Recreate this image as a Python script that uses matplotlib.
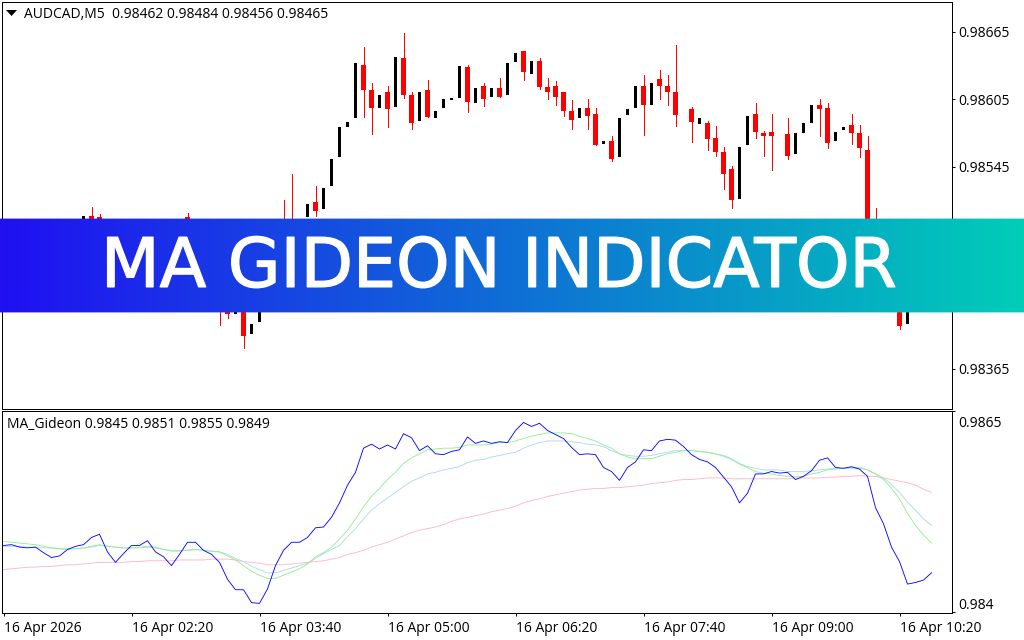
import numpy as np
import matplotlib
matplotlib.use("Agg")
import matplotlib.pyplot as plt
import matplotlib.patheffects as pe
from matplotlib.colors import LinearSegmentedColormap
from matplotlib.patches import Polygon

W, H = 1024, 640
PX = 72 / 100  # points per pixel at dpi 100

# ---------- data ----------
symbol_title = "AUDCAD,M5  0.98462 0.98484 0.98456 0.98465"
indicator_title = "MA_Gideon 0.9845 0.9851 0.9855 0.9849"
banner_title = "MA GIDEON INDICATOR"
price_ticks = [0.98665, 0.98605, 0.98545, 0.98485, 0.98425, 0.98365]
price_labels = ["0.98665", "0.98605", "0.98545", "0.98485", "0.98425", "0.98365"]
ind_ticks = [0.9865, 0.984]
ind_labels = ["0.9865", "0.984"]
time_ticks = [0, 16, 32, 48, 64, 80, 96, 112]
time_labels = ["16 Apr 2026", "16 Apr 02:20", "16 Apr 03:40", "16 Apr 05:00",
               "16 Apr 06:20", "16 Apr 07:40", "16 Apr 09:00", "16 Apr 10:20"]

# candles, prices as 0.98xxx (xxx listed). Bars inside the banner band are estimates.
candle_bar = [10, 11, 12, 23, 27, 28, 29, 30, 31, 32, 35, 36, 38, 39, 40, 41, 42, 43,
              44, 45, 46, 47, 48, 49, 50, 51, 52, 53, 54, 55, 56, 57, 58, 59, 60, 61,
              62, 63, 64, 65, 66, 67, 68, 69, 70, 71, 72, 73, 74, 75, 76, 77, 78, 79,
              80, 81, 82, 83, 84, 85, 86, 87, 88, 89, 90, 91, 92, 93, 94, 95, 96, 97,
              98, 99, 100, 101, 102, 103, 104, 105, 106, 107, 108, 109, 110, 111, 112,
              113, 114, 115, 116]
opens = [490, 501, 500, 500, 470, 440, 414, 440, 396, 407, 490, 495, 500, 514, 507, 528, 554, 580,
         588, 636, 613, 597, 612, 598, 642, 609, 586, 613, 588, 597, 604, 606, 634, 602, 617, 607,
         615, 609, 638, 648, 628, 639, 616, 617, 612, 595, 588, 597, 592, 565, 568, 554, 591, 597,
         617, 600, 623, 617, 612, 592, 596, 583, 584, 571, 558, 543, 516, 564, 592, 575, 576, 571,
         574, 556, 575, 584, 600, 597, 568, 578, 582, 575, 560, 480, 470, 455, 430,
         405, 430, 440, 462]
highs = [501, 509, 503, 504, 490, 445, 430, 445, 405, 430, 515, 539, 512, 528, 526, 552, 580, 585,
         637, 652, 620, 609, 617, 643, 664, 612, 612, 622, 595, 605, 606, 635, 636, 615, 620, 615,
         624, 637, 646, 648, 639, 642, 624, 621, 612, 604, 597, 605, 597, 568, 572, 588, 596, 617,
         627, 620, 631, 627, 653, 610, 598, 588, 586, 581, 563, 546, 563, 590, 602, 577, 592, 583,
         588, 575, 584, 600, 605, 602, 576, 580, 592, 582, 572, 508, 480, 465, 440,
         430, 445, 462, 484]
lows = [490, 485, 488, 490, 404, 410, 414, 384, 396, 407, 480, 470, 500, 501, 507, 528, 554, 580,
        588, 589, 574, 597, 580, 598, 606, 579, 586, 589, 588, 597, 604, 606, 594, 602, 599, 607,
        607, 609, 638, 622, 628, 614, 605, 600, 590, 579, 588, 579, 564, 565, 550, 554, 591, 597,
        573, 600, 605, 600, 581, 580, 567, 583, 560, 555, 525, 508, 516, 564, 571, 555, 542, 547,
        552, 556, 575, 584, 572, 562, 568, 578, 565, 554, 470, 465, 450, 430, 401,
        405, 430, 440, 456]
closes = [501, 490, 492, 495, 450, 414, 430, 394, 405, 430, 485, 480, 512, 506, 526, 552, 580, 585,
          637, 613, 597, 609, 596, 643, 609, 584, 612, 589, 595, 605, 606, 635, 603, 615, 605, 615,
          607, 637, 646, 629, 639, 616, 612, 607, 595, 587, 597, 590, 564, 568, 552, 588, 596, 617,
          600, 620, 617, 612, 591, 592, 585, 588, 570, 558, 539, 515, 563, 590, 576, 572, 572, 571,
          555, 575, 584, 600, 596, 566, 576, 580, 575, 562, 475, 470, 455, 440, 403,
          430, 440, 462, 465]

# indicator buffers, 117 bars, prices as 0.98xxx (xxx listed)
ma_blue = [483, 484, 481, 480, 481, 474, 468, 470, 478, 482, 484, 493, 497, 475, 462, 473, 483, 483,
           489, 475, 469, 458, 472, 487, 487, 477, 472, 462, 441, 428, 428, 412, 411, 429, 458, 477,
           487, 487, 493, 505, 506, 518, 536, 558, 574, 604, 609, 603, 608, 603, 622, 617, 601, 607,
           597, 596, 600, 602, 618, 610, 613, 610, 612, 611, 626, 636, 631, 635, 626, 621, 616, 605,
           596, 597, 596, 580, 575, 564, 580, 587, 602, 601, 613, 615, 614, 606, 596, 590, 587, 580,
           568, 556, 536, 548, 572, 572, 575, 573, 574, 565, 569, 576, 589, 592, 580, 579, 581, 578,
           569, 530, 510, 481, 463, 435, 437, 440, 449]
ma_green = [488, 487, 486, 485, 484, 482, 480, 479, 478, 479, 480, 482, 484, 482, 481, 480, 480, 481,
            482, 481, 478, 476, 476, 477, 478, 477, 476, 475, 470, 465, 458, 451, 446, 442, 442, 446,
            450, 454, 460, 469, 474, 481, 491, 502, 516, 531, 544, 554, 565, 574, 585, 592, 597, 602,
            603, 604, 604, 605, 608, 608, 608, 609, 611, 611, 613, 616, 619, 621, 623, 623, 623, 622,
            619, 616, 613, 608, 604, 597, 593, 591, 591, 591, 594, 597, 599, 601, 601, 600, 599, 597,
            594, 590, 584, 580, 575, 573, 572, 570, 569, 569, 569, 572, 574, 577, 578, 579, 580, 580,
            577, 572, 565, 554, 541, 523, 508, 496, 486]
ma_lightblue = [482, 482, 482, 481, 481, 480, 480, 479, 479, 479, 480, 481, 483, 482, 481, 480, 480, 480,
                481, 480, 478, 477, 477, 477, 478, 477, 476, 475, 472, 467, 463, 457, 453, 449, 449, 452,
                455, 458, 461, 467, 473, 478, 483, 494, 504, 516, 527, 535, 542, 549, 556, 563, 567, 572,
                574, 577, 579, 581, 586, 589, 590, 593, 595, 597, 599, 604, 608, 611, 613, 613, 613, 612,
                611, 609, 608, 606, 601, 597, 595, 594, 594, 595, 597, 599, 601, 601, 601, 600, 599, 597,
                595, 591, 585, 581, 579, 577, 577, 577, 575, 575, 575, 576, 577, 578, 579, 579, 579, 579,
                577, 572, 567, 559, 549, 537, 527, 516, 508]
ma_pink = [453, 454, 455, 456, 456, 457, 457, 458, 459, 459, 460, 461, 462, 462, 462, 462, 463, 463,
           464, 464, 464, 464, 465, 465, 465, 465, 466, 466, 466, 465, 463, 462, 461, 459, 459, 459,
           460, 461, 462, 463, 464, 466, 468, 472, 474, 477, 481, 484, 487, 491, 495, 499, 502, 504,
           506, 509, 513, 516, 518, 520, 522, 525, 527, 529, 532, 536, 539, 541, 544, 546, 548, 550,
           552, 553, 554, 554, 555, 555, 556, 557, 558, 560, 561, 562, 564, 565, 565, 566, 567, 567,
           567, 566, 566, 566, 566, 566, 566, 566, 566, 567, 567, 567, 567, 568, 568, 569, 569, 570,
           569, 569, 567, 565, 563, 561, 558, 553, 549]


def price(xxx):
    return 0.98 + np.asarray(xxx, dtype=float) / 1e5


# ---------- layout ----------
plt.rcParams["font.family"] = ["Open Sans", "DejaVu Sans"]
fig = plt.figure(figsize=(W / 100, H / 100), dpi=100, facecolor="white")


def axes_px(left, top, right, bottom):
    return fig.add_axes([left / W, 1 - bottom / H, (right - left) / W, (bottom - top) / H])


ax = axes_px(2.2, 2.2, 952.2, 409.2)
ax2 = axes_px(2.2, 411.2, 952.2, 613.2)
XLIM = (-0.1625, 118.5875)
LINE = 0.62  # indicator stroke
for a in (ax, ax2):
    a.set_xlim(*XLIM)
    a.set_facecolor("white")
    for s in a.spines.values():
        s.set_linewidth(PX)
        s.set_color("black")
ax.set_ylim(price(329.2), price(691.5))
ax2.set_ylim(0.983988, 0.9865)

# ---------- candles ----------
bars = np.array(candle_bar)
o, h, l, c = map(price, (opens, highs, lows, closes))
up = c > o
down = c < o
ax.vlines(bars[down], l[down], h[down], color="#FF0000", lw=PX, antialiased=False, zorder=2)
ax.bar(bars[down], (o - c)[down], bottom=c[down], width=5 / 8, color="#FF0000",
       antialiased=False, linewidth=0, zorder=3)
ax.bar(bars[up], (c - o)[up], bottom=o[up], width=3 / 8, color="black",
       antialiased=False, linewidth=0, zorder=3)

ax.tick_params(axis="y", which="both", right=True, left=False, labelright=True, labelleft=False,
               length=3 * PX, width=PX, pad=3.5 * PX, labelsize=10)
ax.tick_params(axis="x", bottom=False, labelbottom=False)
ax.set_yticks(price_ticks, price_labels)
fig.text(24 / W, 1 - 15 / H, symbol_title, fontsize=10, va="center", ha="left", color="black")
fig.add_artist(Polygon([(6 / W, 1 - 10 / H), (17 / W, 1 - 10 / H), (11.5 / W, 1 - 16 / H)],
                       closed=True, transform=fig.transFigure, facecolor="black", edgecolor="none"))

# ---------- indicator ----------
x = np.arange(len(ma_blue))
ax2.plot(x, price(ma_pink), color="#FFB6C1", lw=LINE, zorder=2)
ax2.plot(x, price(ma_lightblue), color="#ADD8E6", lw=LINE, zorder=3)
ax2.plot(x, price(ma_green), color="#90EE90", lw=LINE, zorder=4)
ax2.plot(x, price(ma_blue), color="#0000FF", lw=LINE, zorder=5)

ax2.set_xticks(time_ticks, time_labels, ha="left")
ax2.tick_params(axis="x", length=3 * PX, width=PX, pad=4.5 * PX, labelsize=10)
ax2.set_yticks(ind_ticks, ["", ""])
ax2.tick_params(axis="y", which="both", right=True, left=False, length=3 * PX, width=PX)
for val, lab, off in zip(ind_ticks, ind_labels, (-12, 7)):
    ax2.annotate(lab, xy=(1, val), xycoords=("axes fraction", "data"),
                 xytext=(6.5 * PX, off * PX), textcoords="offset points",
                 va="center", ha="left", fontsize=10, annotation_clip=False)
fig.text(7 / W, 1 - 425 / H, indicator_title, fontsize=10, va="center", ha="left", color="black")

# ---------- banner ----------
cmap = LinearSegmentedColormap.from_list("banner", ["#2010F2", "#0F6FD6", "#00CDB8"])
gradient = np.linspace(0, 1, 1024)[None, :]
halo = axes_px(0, 218, W, 313)
halo.set_zorder(9)
halo.imshow(gradient, aspect="auto", cmap=cmap, alpha=0.4, extent=(0, 1, 0, 1))
halo.set_axis_off()
ban = axes_px(0, 219, W, 312)
ban.set_zorder(10)
ban.imshow(gradient, aspect="auto", cmap=cmap, extent=(0, 1, 0, 1))
ban.set_axis_off()
ban.text(498.5 / W, 0.475, banner_title, transform=ban.transAxes, color="white",
         family=["DejaVu Sans"], fontsize=49, ha="center", va="center",
         path_effects=[pe.withStroke(linewidth=1.0, foreground="white")])

fig.savefig("out.png", dpi=100)
